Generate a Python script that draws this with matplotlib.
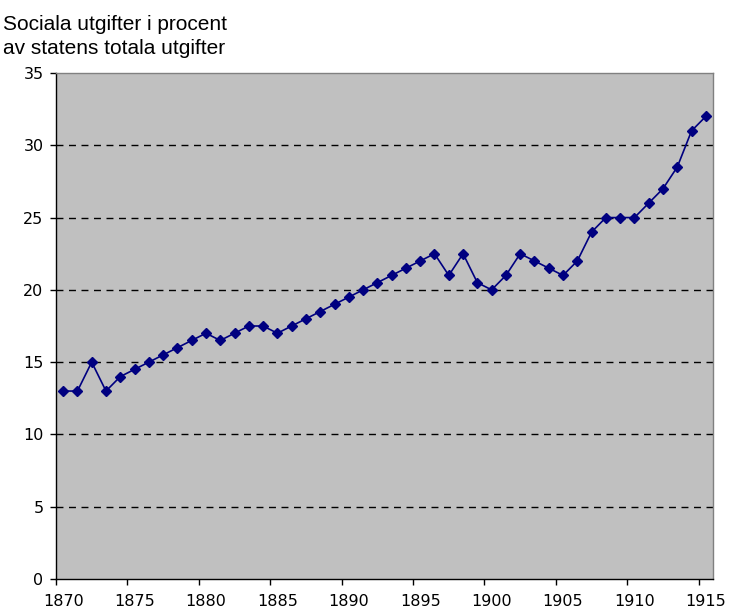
import matplotlib
matplotlib.use("Agg")
import matplotlib.pyplot as plt
import numpy as np

# Yearly values
years = list(range(1870, 1916))
share = [13, 13, 15, 13, 14, 14.5, 15, 15.5, 16, 16.5,
         17, 16.5, 17, 17.5, 17.5, 17, 17.5, 18, 18.5, 19,
         19.5, 20, 20.5, 21, 21.5, 22, 22.5, 21, 22.5, 20.5,
         20, 21, 22.5, 22, 21.5, 21, 22, 24, 25, 25,
         25, 26, 27, 28.5, 31, 32]
xlabels = [str(y) for y in range(1870, 1916, 5)]
yticks = list(range(0, 36, 5))

fig = plt.figure(figsize=(7.29, 6.12), dpi=100)
ax = fig.add_axes([56 / 729, 33 / 612, 657 / 729, 506 / 612])
ax.set_facecolor('#C0C0C0')

# category axis: each year is a slot, the point sits in its middle
x = np.array(years) + 0.5
ax.plot(x, share, color='#000080', linewidth=1.2, marker='D', markersize=5,
        markerfacecolor='#000080', markeredgecolor='#000080', zorder=3)

ax.set_xlim(1870, 1916)
ax.set_ylim(0, 35)

# tick marks between slots, labels centred on the slot
tick_years = [int(s) for s in xlabels]
ax.set_xticks(tick_years)
ax.set_xticklabels([])
ax.set_xticks([y + 0.5 for y in tick_years], minor=True)
ax.set_xticklabels(xlabels, minor=True)
ax.set_yticks(yticks)

for y in yticks[1:-1]:
    ax.axhline(y, color='black', linewidth=1, linestyle=(0, (5, 4)), zorder=1)

for side in ['top', 'right']:
    ax.spines[side].set_color('#808080')
    ax.spines[side].set_linewidth(1)
for side in ['left', 'bottom']:
    ax.spines[side].set_color('black')
    ax.spines[side].set_linewidth(1)

ax.tick_params(axis='both', which='major', direction='out', length=4, width=1,
               labelsize=11.5, color='black')
ax.tick_params(axis='x', which='minor', length=0, labelsize=11.5, pad=11)
ax.tick_params(axis='y', pad=5)

fig.text(0.004, 1 - 30 / 612, 'Sociala utgifter i procent', ha='left',
         va='baseline', fontsize=15, family='Liberation Sans')
fig.text(0.004, 1 - 53.5 / 612, 'av statens totala utgifter', ha='left',
         va='baseline', fontsize=15, family='Liberation Sans')

fig.savefig('out.png', dpi=100)
